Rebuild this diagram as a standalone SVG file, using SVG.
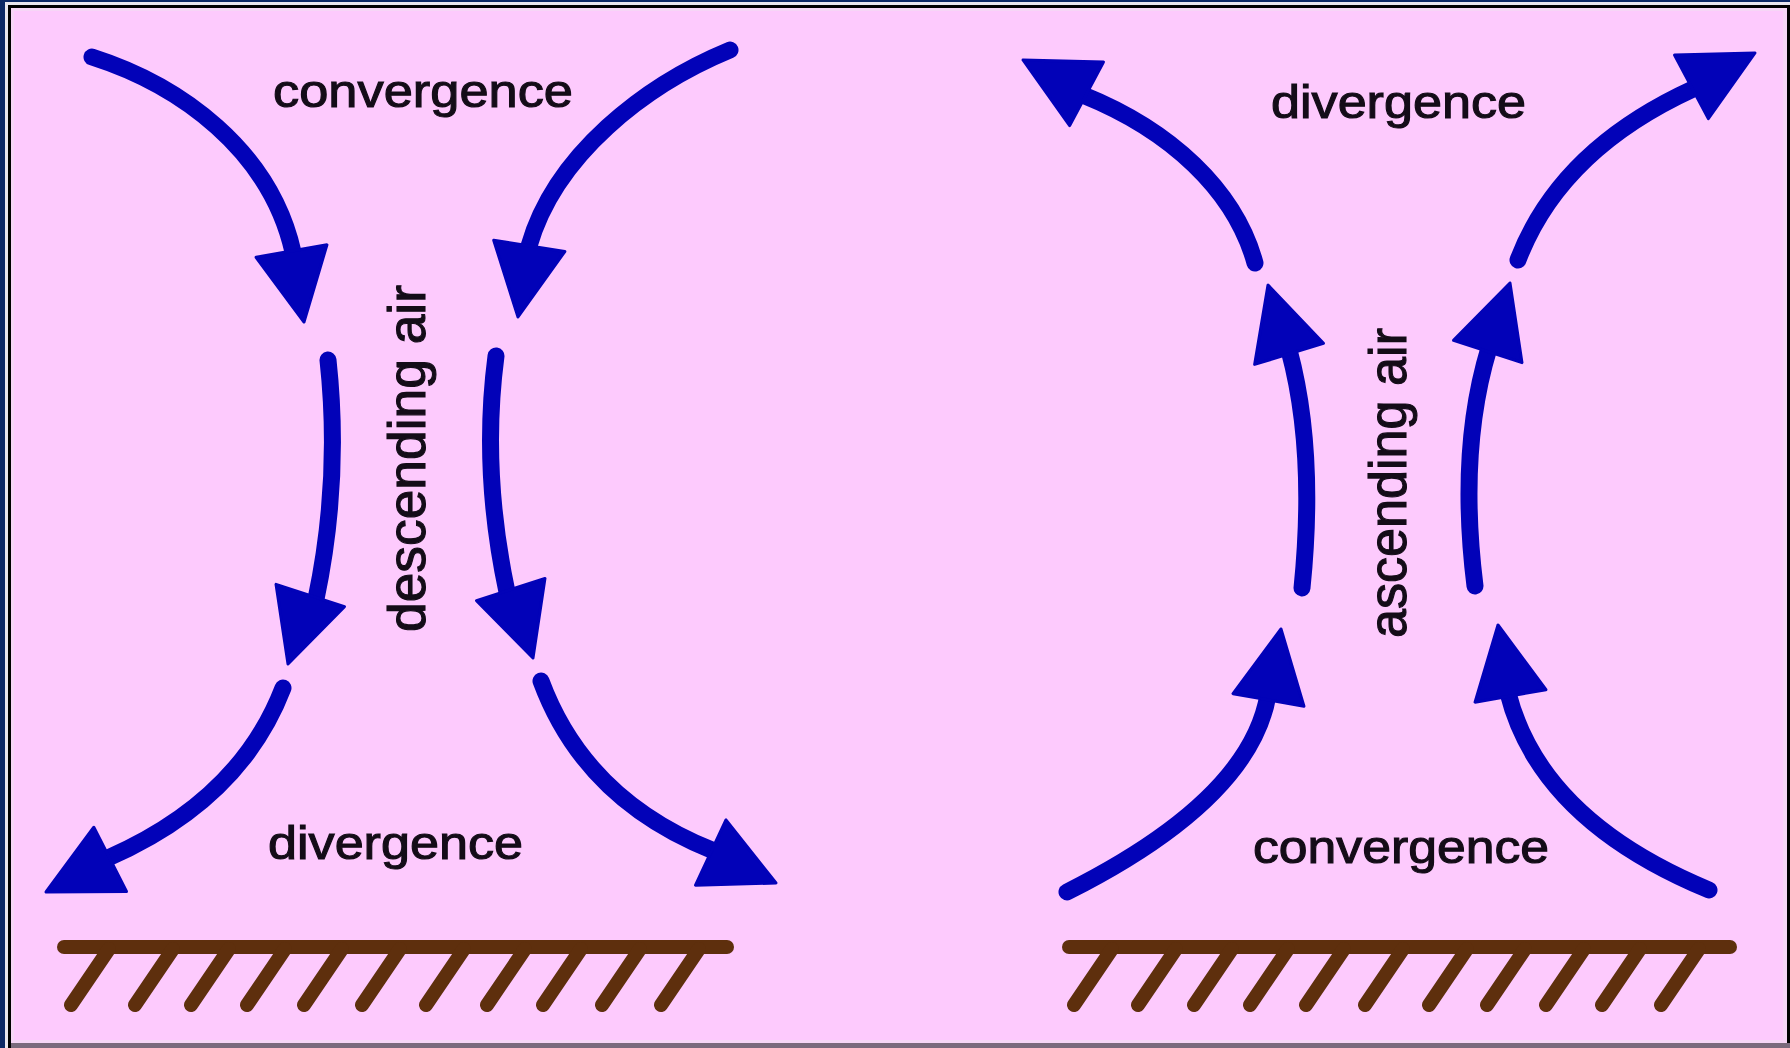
<svg xmlns="http://www.w3.org/2000/svg" xmlns:xlink="http://www.w3.org/1999/xlink" width="1790" height="1048" viewBox="0 0 1790 1048">
  <style>
    .shaft { fill: none; stroke: #0202b8; stroke-width: 17; stroke-linecap: round; }
    .head { fill: #0202b8; stroke: #0202b8; stroke-width: 3; stroke-linejoin: round; }
    .ground { stroke: #5e2f0d; stroke-width: 14; stroke-linecap: round; fill: none; }
    .lbl { font-family: "Liberation Sans", Arial, sans-serif; font-size: 47px; fill: #140c18; stroke: #140c18; stroke-width: 1.1; }
    .vlbl { font-family: "Liberation Sans", Arial, sans-serif; font-size: 51px; fill: #140c18; stroke: #140c18; stroke-width: 1.1; }
  </style>
  <defs>
    <!-- arrowhead, tip at origin pointing along +x -->
    <path id="head" class="head" d="M0,0 L-72,-36 L-72,36 Z"/>
  </defs>

  <!-- frame -->
  <rect x="0" y="0" width="1790" height="1048" fill="#0c2865"/>
  <rect x="5" y="2" width="1785" height="1046" fill="#e9e6ee"/>
  <rect x="8" y="5" width="1782" height="1043" fill="#000"/>
  <rect x="11" y="8" width="1776" height="1035" fill="#f6d6f6"/>
  <rect x="14" y="11" width="1769" height="1029" fill="#fdcafd"/>
  <rect x="11" y="1043" width="1779" height="5" fill="#7a6a7c"/>

  <!-- left: descending air -->
  <g id="left-panel">
    <g id="left-labels">
      <text class="lbl" x="273" y="107" textLength="300" lengthAdjust="spacingAndGlyphs">convergence</text>
      <text class="lbl" x="268" y="859" textLength="255" lengthAdjust="spacingAndGlyphs">divergence</text>
      <text class="vlbl" transform="translate(425,632) rotate(-90)" x="0" y="0" textLength="347" lengthAdjust="spacingAndGlyphs">descending air</text>
    </g>
    <g id="left-ground">
      <line class="ground" x1="64" y1="947" x2="727" y2="947"/>
      <path class="ground" d="M71,1005 l38,-56 M135,1005 l38,-56 M191,1005 l38,-56 M247,1005 l38,-56 M304,1005 l38,-56 M362,1005 l38,-56 M426,1005 l38,-56 M487,1005 l38,-56 M543,1005 l38,-56 M602,1005 l38,-56 M661,1005 l38,-56"/>
    </g>
  </g>

  <!-- right: ascending air -->
  <g id="right-panel">
    <g id="right-labels">
      <text class="lbl" x="1271" y="118" textLength="255" lengthAdjust="spacingAndGlyphs">divergence</text>
      <text class="lbl" x="1253" y="863" textLength="296" lengthAdjust="spacingAndGlyphs">convergence</text>
      <text class="vlbl" transform="translate(1406,638) rotate(-90)" x="0" y="0" textLength="310" lengthAdjust="spacingAndGlyphs">ascending air</text>
    </g>
    <g id="right-ground">
      <line class="ground" x1="1069" y1="947" x2="1730" y2="947"/>
      <path class="ground" d="M1074,1005 l38,-56 M1138,1005 l38,-56 M1194,1005 l38,-56 M1250,1005 l38,-56 M1306,1005 l38,-56 M1365,1005 l38,-56 M1429,1005 l38,-56 M1487,1005 l38,-56 M1546,1005 l38,-56 M1602,1005 l38,-56 M1661,1005 l38,-56"/>
    </g>
  </g>

  <!-- air-flow arrows -->
  <g id="connectors">
    <!-- left panel -->
    <path class="shaft" d="M92,57 C180,85 270,150 293,252"/>
    <use xlink:href="#head" href="#head" transform="translate(304,322) rotate(80)"/>
    <path class="shaft" d="M730,50 C645,85 555,155 529,246"/>
    <use xlink:href="#head" href="#head" transform="translate(518,317) rotate(99)"/>
    <path class="shaft" d="M328,360 Q341,480 316,599"/>
    <use xlink:href="#head" href="#head" transform="translate(288,664) rotate(108)"/>
    <path class="shaft" d="M496,356 Q481,470 507,592"/>
    <use xlink:href="#head" href="#head" transform="translate(533,658) rotate(72)"/>
    <path class="shaft" d="M283,688 Q240,800 108,858"/>
    <use xlink:href="#head" href="#head" transform="translate(46,892) rotate(153)"/>
    <path class="shaft" d="M541,681 Q585,800 714,851"/>
    <use xlink:href="#head" href="#head" transform="translate(776,883) rotate(25)"/>

    <!-- right panel -->
    <path class="shaft" d="M1255,263 C1235,190 1170,130 1083,95"/>
    <use xlink:href="#head" href="#head" transform="translate(1023,60) rotate(-152)"/>
    <path class="shaft" d="M1518,260 Q1560,150 1693,89"/>
    <use xlink:href="#head" href="#head" transform="translate(1755,53) rotate(-28)"/>
    <path class="shaft" d="M1302,588 Q1316,450 1289,350"/>
    <use xlink:href="#head" href="#head" transform="translate(1268,285) rotate(-107)"/>
    <path class="shaft" d="M1475,586 Q1458,450 1489,348"/>
    <use xlink:href="#head" href="#head" transform="translate(1510,283) rotate(-72)"/>
    <path class="shaft" d="M1067,892 Q1250,800 1268,695"/>
    <use xlink:href="#head" href="#head" transform="translate(1281,629) rotate(-80)"/>
    <path class="shaft" d="M1709,890 Q1540,820 1508,693"/>
    <use xlink:href="#head" href="#head" transform="translate(1498,625) rotate(-100)"/>
  </g>
</svg>
